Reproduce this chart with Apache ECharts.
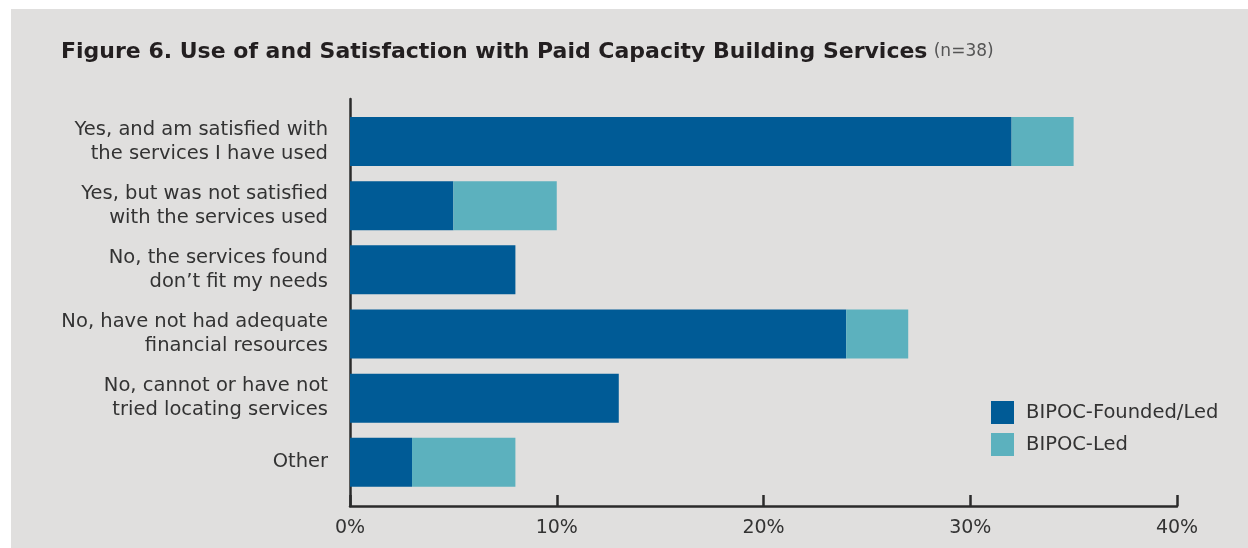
<!DOCTYPE html>
<html>
<head>
<meta charset="utf-8">
<script src="https://cdn.jsdelivr.net/npm/echarts@6/dist/echarts.min.js"></script>
<style>
  html, body { margin: 0; padding: 0; background: #ffffff; }
  #chart { position: absolute; left: 11px; top: 9px; width: 1237px; height: 539px; }
</style>
</head>
<body>
<div id="chart"></div>
<script>
// Survey responses (percent of respondents, n=38)
const categories = [
  'Yes, and am satisfied with\nthe services I have used',
  'Yes, but was not satisfied\nwith the services used',
  'No, the services found\ndon\u2019t fit my needs',
  'No, have not had adequate\nfinancial resources',
  'No, cannot or have not\ntried locating services',
  'Other'
];
const foundedLed = [32, 5, 8, 24, 13, 3];
const bipocLed = [3, 5, 0, 3, 0, 5];
const seriesNames = ['BIPOC-Founded/Led', 'BIPOC-Led'];
const xTicks = [0, 10, 20, 30, 40];

const FONT = '"DejaVu Sans", "Noto Sans", sans-serif';
const TEXT = '#333333';
const AXIS = '#2b2b2b';

const chart = echarts.init(document.getElementById('chart'));
chart.setOption({
  backgroundColor: '#e0dfde',
  animation: false,
  textStyle: { fontFamily: FONT },
  title: {
    left: 45,
    top: 27,
    text: '{b|Figure 6. Use of and Satisfaction with Paid Capacity Building Services} {n|(n=38)}',
    textStyle: {
      rich: {
        b: { fontFamily: FONT, fontWeight: 'bold', fontSize: 22, color: '#231f20' },
        n: { fontFamily: FONT, fontWeight: 'normal', fontSize: 17, color: '#555555' }
      }
    }
  },
  legend: {
    data: seriesNames,
    orient: 'vertical',
    left: 975,
    top: 387,
    itemWidth: 23,
    itemHeight: 23,
    itemGap: 9,
    icon: 'rect',
    textStyle: { fontSize: 19.5, color: TEXT, fontFamily: FONT, padding: [0, 0, 0, 7] }
  },
  grid: [
    // bar area
    { left: 339, right: 71, top: 100.4, height: 385, containLabel: false },
    // frame holding the axis lines and ticks
    { left: 339, right: 71, top: 90, height: 407, containLabel: false }
  ],
  xAxis: [
    { gridIndex: 0, type: 'value', min: 0, max: 40, interval: 10, show: false },
    {
      gridIndex: 1, type: 'value', min: xTicks[0], max: xTicks[xTicks.length - 1], interval: 10,
      axisLine: { show: true, lineStyle: { color: AXIS, width: 2.5 } },
      axisTick: { show: true, inside: true, length: 11, lineStyle: { color: AXIS, width: 2.5 } },
      splitLine: { show: false },
      axisLabel: { formatter: '{value}%', fontSize: 19, color: TEXT, margin: 13, fontFamily: FONT }
    }
  ],
  yAxis: [
    {
      gridIndex: 0, type: 'category', data: categories, inverse: true,
      axisLine: { show: false }, axisTick: { show: false },
      axisLabel: { fontSize: 19.5, lineHeight: 24, color: TEXT, margin: 22, align: 'right', fontFamily: FONT }
    },
    {
      gridIndex: 1, type: 'value', min: 0, max: 1,
      axisLine: { show: true, lineStyle: { color: AXIS, width: 2.5 } },
      axisTick: { show: false }, axisLabel: { show: false }, splitLine: { show: false }
    }
  ],
  series: [
    {
      name: seriesNames[0], type: 'bar', stack: 'total', xAxisIndex: 0, yAxisIndex: 0,
      data: foundedLed, barWidth: 49, itemStyle: { color: '#005b96' }
    },
    {
      name: seriesNames[1], type: 'bar', stack: 'total', xAxisIndex: 0, yAxisIndex: 0,
      data: bipocLed, barWidth: 49, itemStyle: { color: '#5cb1be' }
    }
  ]
});
</script>
</body>
</html>
